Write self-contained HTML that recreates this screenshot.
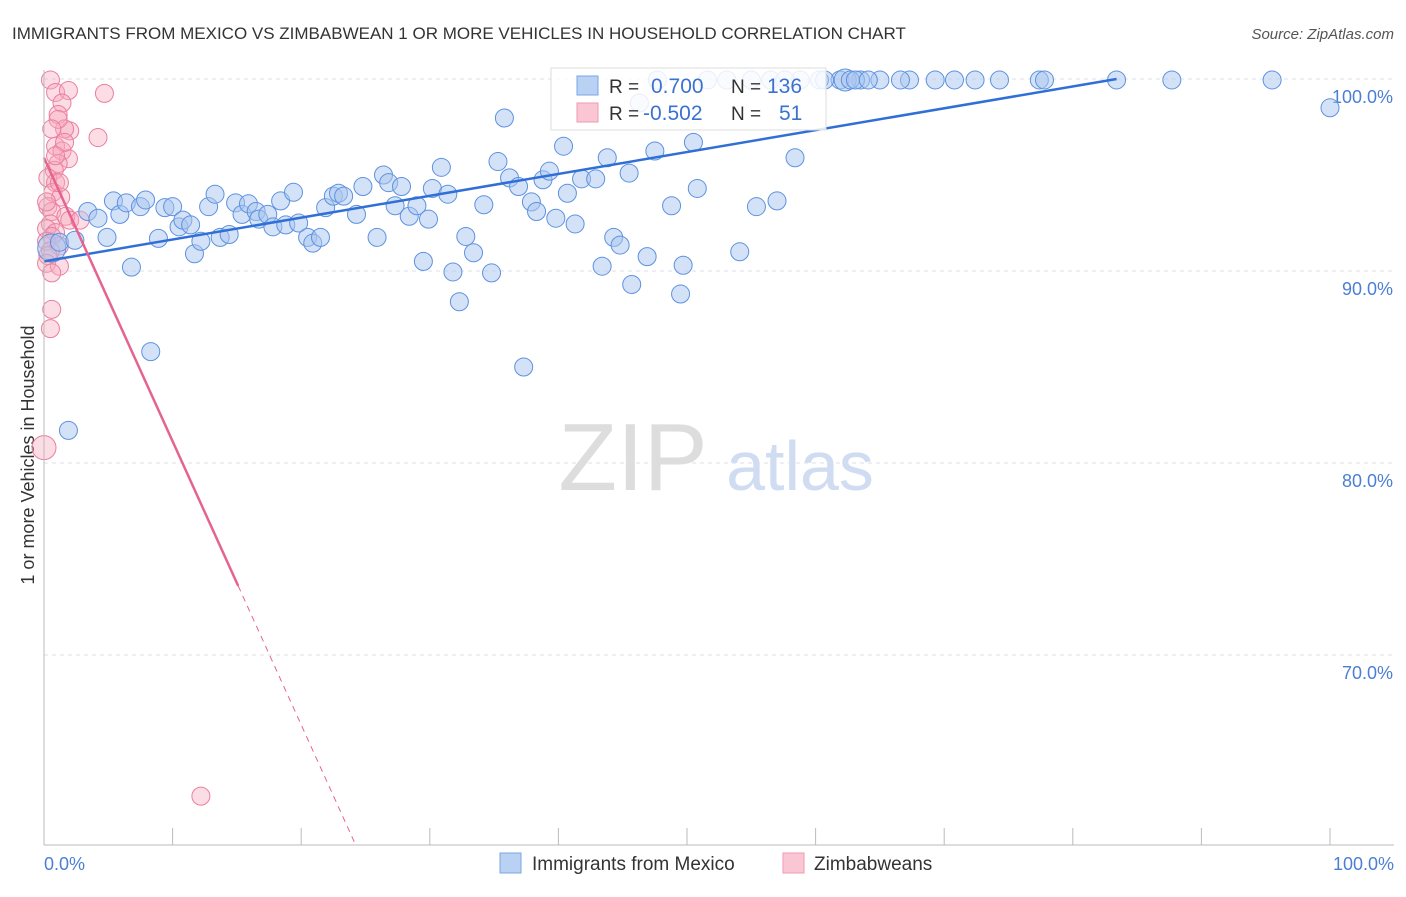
<!DOCTYPE html>
<html><head><meta charset="utf-8"><style>
body{margin:0;background:#fff;font-family:"Liberation Sans",sans-serif}
svg text{font-family:"Liberation Sans",sans-serif}
</style></head><body>
<svg id="c" width="1406" height="892" xmlns="http://www.w3.org/2000/svg">
<text x="12" y="39" font-size="17" fill="#333">IMMIGRANTS FROM MEXICO VS ZIMBABWEAN 1 OR MORE VEHICLES IN HOUSEHOLD CORRELATION CHART</text>
<text x="1394" y="39" font-size="15" fill="#555" text-anchor="end" font-style="italic">Source: ZipAtlas.com</text>
<text x="34" y="455" font-size="18" fill="#333" text-anchor="middle" transform="rotate(-90 34 455)">1 or more Vehicles in Household</text>
<text x="633" y="490" font-size="96" fill="#ddd" font-family="Liberation Serif" text-anchor="middle">ZIP</text>
<text x="800" y="490" font-size="70" fill="#cfdcf2" text-anchor="middle">atlas</text>
<g id="grid"></g><g id="pts"></g><g id="lines"></g>
<line x1="44" y1="70" x2="44" y2="845" stroke="#bbb"/>
<line x1="44" y1="845" x2="1394" y2="845" stroke="#bbb"/>
<text x="44" y="870" font-size="18" fill="#4a7fd4">0.0%</text>
<text x="1394" y="870" font-size="18" fill="#4a7fd4" text-anchor="end">100.0%</text>
<g>
<rect x="551" y="68" width="275" height="62" fill="#fff" fill-opacity="0.85" stroke="#ddd"/>
<rect x="577" y="76" width="21" height="19" fill="#b9d1f3" stroke="#7aa6e6"/>
<rect x="577" y="103" width="21" height="19" fill="#fbc6d3" stroke="#ef9ab2"/>
<text x="609" y="93" font-size="19" fill="#333">R =</text><text x="651" y="93" font-size="21" fill="#3a72d0">0.700</text>
<text x="731" y="93" font-size="19" fill="#333">N =</text><text x="767" y="93" font-size="21" fill="#3a72d0">136</text>
<text x="609" y="120" font-size="19" fill="#333">R =</text><text x="643" y="120" font-size="21" fill="#3a72d0">-0.502</text>
<text x="731" y="120" font-size="19" fill="#333">N =</text><text x="779" y="120" font-size="21" fill="#3a72d0">51</text>
</g>
<g>
<rect x="500" y="853" width="21" height="20" fill="#b9d1f3" stroke="#7aa6e6"/>
<text x="532" y="870" font-size="19" fill="#333">Immigrants from Mexico</text>
<rect x="783" y="853" width="21" height="20" fill="#fbc6d3" stroke="#ef9ab2"/>
<text x="814" y="870" font-size="19" fill="#333">Zimbabweans</text>
</g>
</svg>
<script>
const yTicks=[100,90,80,70];
const xTickVals=[10,20,30,40,50,60,70,80,90,100];
const blueX=[0.6,1.2,2.4,3.4,4.2,4.9,5.4,5.9,6.4,6.8,7.5,7.9,8.3,8.9,9.4,10.0,10.5,10.8,11.4,11.7,12.2,12.8,13.3,13.7,14.4,14.9,15.4,15.9,16.5,16.7,17.4,17.8,18.4,18.8,19.4,19.8,20.5,20.9,21.5,21.9,22.5,22.9,23.3,24.3,24.8,25.9,26.4,26.8,27.3,27.8,28.4,29.0,29.5,29.9,30.2,30.9,31.4,31.8,32.3,32.8,33.4,34.2,34.8,35.3,35.8,36.2,36.9,37.3,37.9,38.3,38.8,39.3,39.8,40.4,40.7,41.3,41.8,42.9,43.4,43.8,44.3,44.8,45.5,45.7,46.3,46.9,47.5,47.7,48.8,49.5,49.7,50.5,50.8,51.6,54.1,55.0,55.4,56.5,57.0,58.4,58.8,60.3,61.9,63.5,65.0,67.3,69.3,70.8,72.4,74.3,77.4,77.8,83.4,87.7,95.5,100,1.9,53.1,57.6,60.7,62.3,62.7,63.1,64.1,66.6];
const blueY=[91.2,91.5,91.6,93.1,92.75,91.75,93.65,92.95,93.55,90.2,93.35,93.7,85.8,91.7,93.3,93.35,92.3,92.65,92.4,90.9,91.55,93.35,94.0,91.75,91.9,93.55,92.95,93.5,93.1,92.7,92.95,92.3,93.65,92.4,94.1,92.5,91.75,91.45,91.75,93.3,93.9,94.05,93.9,92.95,94.4,91.75,95.0,94.6,93.4,94.4,92.85,93.4,90.5,92.7,94.3,95.4,94.0,89.95,88.4,91.8,90.95,93.45,89.9,95.7,97.97,94.85,94.4,85.0,93.6,93.1,94.75,95.2,92.75,96.5,94.05,92.45,94.8,94.8,90.25,95.9,91.75,91.35,95.1,89.3,98.75,90.75,96.25,99.95,93.4,88.8,90.3,96.7,94.3,99.95,91.0,99.95,93.35,99.95,93.65,95.9,99.95,99.95,99.95,99.95,99.95,99.95,99.95,99.95,99.95,99.95,99.95,99.95,99.95,99.95,99.95,98.5,81.7,99.95,99.95,99.95,99.95,99.95,99.95,99.95,99.95];
const blueBig=[0,120];
const pinkX=[0.5,0.9,1.9,4.7,1.4,1.1,2.0,1.6,1.1,4.2,0.6,0.9,1.4,1.9,1.1,0.8,0.3,0.9,0.7,1.3,0.3,0.6,1.7,2.0,2.8,0.5,0.2,0.9,0.6,0.2,1.2,0.5,0.3,0.2,1.2,0.6,0.6,0.5,0,12.2,1.6,0.9,0.2,1.2];
const pinkY=[99.95,99.3,99.4,99.25,98.75,98.15,97.3,97.4,97.9,96.95,97.4,96.5,96.25,95.85,95.6,95.25,94.85,94.6,94.1,93.85,93.35,93.1,92.85,92.65,92.65,92.45,92.2,92.0,91.8,91.55,91.3,91.05,90.8,90.4,90.25,89.9,88.0,87.0,80.8,62.65,96.7,96.0,93.6,94.6];
const blueFit=[90.5,100];
const pinkFit=[95.9,73.6];
const X=v=>44+v*12.86, Y=v=>79+(100-v)*19.2;
const NS="http://www.w3.org/2000/svg";
function mk(t,a,p){const e=document.createElementNS(NS,t);for(const k in a)e.setAttribute(k,a[k]);document.getElementById(p).appendChild(e);return e;}
yTicks.forEach(t=>{
 const l=mk('line',{x1:44,x2:1394,y1:Y(t),y2:Y(t),stroke:'#dde',"stroke-dasharray":'4 4'},'grid');
 
 
 const tx=mk('text',{x:1393,y:Y(t)+24,"font-size":18,fill:'#4a7fd4',"text-anchor":'end'},'grid');
 tx.textContent=t.toFixed(1)+'%';
 
 
});
xTickVals.forEach(t=>{
 const l=mk('line',{x1:X(t),x2:X(t),y1:828,y2:845,stroke:'#bbb'},'grid');
 
 
});
pinkX.forEach((x,i)=>{
 const c=mk('circle',{cx:X(x),cy:Y(pinkY[i]),r:i==38?12:9,fill:'#f7a8bf',"fill-opacity":0.4,stroke:'#ea7f9f',"stroke-width":1},'pts');
 
 
});
blueX.forEach((x,i)=>{
 const c=mk('circle',{cx:X(x),cy:Y(blueY[i]),r:blueBig.includes(i)?(i==0?14:11):9,fill:'#a9c6f0',"fill-opacity":0.5,stroke:'#5d92e0',"stroke-width":1},'pts');
 
 
});
const bl=mk('line',{x1:X(0),y1:Y(blueFit[0]),x2:X(83.4),y2:Y(blueFit[0]+(blueFit[1]-blueFit[0])),stroke:'#2f6fd6',"stroke-width":2.5},'lines');


const slope=(pinkFit[1]-pinkFit[0])/15.1;
const pl=mk('line',{x1:X(0),y1:Y(pinkFit[0]),x2:X(15.1),y2:Y(pinkFit[1]),stroke:'#e5648f',"stroke-width":2.5},'lines');


const xe=(60.1-pinkFit[0])/slope;
const pd=mk('line',{x1:X(15.1),y1:Y(pinkFit[1]),x2:X(xe),y2:Y(60.1),stroke:'#e5648f',"stroke-width":1,"stroke-dasharray":'6 5'},'lines');


</script>
</body></html>
